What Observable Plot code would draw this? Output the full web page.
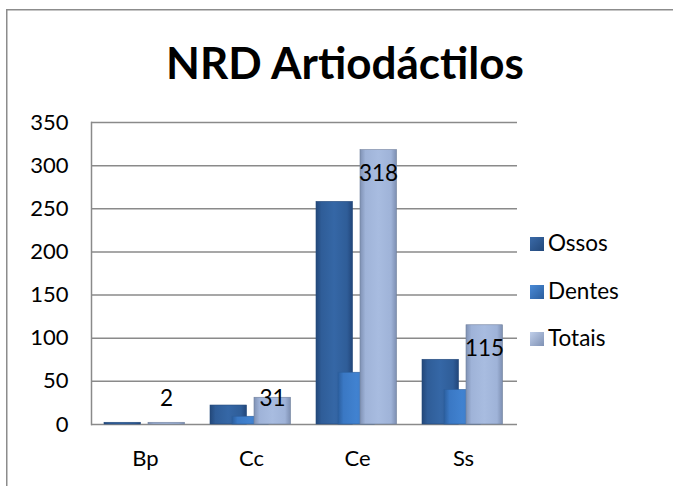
<!DOCTYPE html>
<html>
<head>
<meta charset="utf-8">
<script src="https://cdn.jsdelivr.net/npm/d3@7"></script>
<script src="https://cdn.jsdelivr.net/npm/@observablehq/plot@0.6"></script>
<style>
  html, body { margin: 0; padding: 0; background: #fff; overflow: hidden; }
  #wrap { position: relative; width: 673px; height: 486px; overflow: hidden; font-family: Lato, "Open Sans", sans-serif; }
  #frame { position: absolute; left: 0; top: 0; }
  #title { position: relative; height: 100px; text-align: center; font-weight: bold; font-size: 44px; line-height: 100px; color: #000; padding-left: 17px; padding-top: 12px; box-sizing: border-box; }
  #legend { position: absolute; left: 530px; top: 229px; font-size: 22.5px; color: #000; }
  #legend .row { height: 47.5px; display: flex; align-items: flex-start; }
  #legend .sw { width: 14px; height: 14px; margin-right: 4px; margin-top: 8px; box-sizing: border-box; }
  #chart { position: absolute; left: 0; top: 100px; }
</style>
</head>
<body>
<div id="wrap">
  <svg id="frame" width="673" height="486"><path d="M6.75,486V9.75H673" fill="none" stroke="#8c8c8c" stroke-width="1.5"/></svg>
  <div id="title">NRD Artiodáctilos</div>
  <div id="chart"></div>
  <div id="legend"></div>
</div>
<script>
const categories = ["Bp", "Cc", "Ce", "Ss"];
const ossos = [2, 22, 258, 75];
const dentes = [0, 9, 60, 40];
const totais = [2, 31, 318, 115];
const seriesNames = ["Ossos", "Dentes", "Totais"];
const yTicks = [0, 50, 100, 150, 200, 250, 300, 350];

const rows = categories.map((c, i) => ({cat: c, ossos: ossos[i], dentes: dentes[i], totais: totais[i]}));

const plot = Plot.plot({
  width: 673,
  height: 386,
  marginLeft: 91,
  marginRight: 156,
  marginTop: 22,
  marginBottom: 62,
  style: {fontFamily: "Lato, 'Open Sans', sans-serif", background: "transparent", overflow: "visible"},
  x: {domain: categories, padding: 0, label: null},
  y: {domain: [0, 350], label: null},
  marks: [
    Plot.ruleY(yTicks, {stroke: "#8a8a8a", strokeWidth: 1.5, strokeOpacity: 1}),
    Plot.frame({anchor: "left", stroke: "#8a8a8a", strokeWidth: 1.5}),
    Plot.barY(rows, {x: "cat", y: "ossos", fill: "url(#gOssos)", stroke: "#24497a", strokeWidth: 0.6, insetLeft: 12, insetRight: 57.5}),
    Plot.barY(rows, {x: "cat", y: "dentes", fill: "url(#gDentes)", stroke: "#2d5f9c", strokeWidth: 0.6, insetLeft: 34, insetRight: 35.5}),
    Plot.barY(rows, {x: "cat", y: "totais", fill: "url(#gTotais)", stroke: "#6f7f9c", strokeWidth: 0.6, insetLeft: 56, insetRight: 13.5}),
    Plot.text(rows, {x: "cat", y: d => Math.max(d.totais - 27.6, 30), text: d => String(d.totais), dx: 21, fontSize: 22.5, fill: "#000"}),
    Plot.axisY({ticks: yTicks, tickSize: 0, tickPadding: 23, fontSize: 22, tickFormat: d => String(d), fill: "#000"}),
    Plot.axisX({tickSize: 0, tickPadding: 26, fontSize: 22, fill: "#000"})
  ]
});
document.getElementById("chart").appendChild(plot);

const svg = d3.select(plot);
const defs = svg.insert("defs", ":first-child");
function grad(id, stops) {
  const g = defs.append("linearGradient").attr("id", id).attr("x1", 0).attr("x2", 1).attr("y1", 0).attr("y2", 0);
  stops.forEach(([o, c]) => g.append("stop").attr("offset", o).attr("stop-color", c));
}
grad("gOssos", [[0, "#23487a"], [0.15, "#2f5d98"], [0.5, "#3567a6"], [0.85, "#2f5d98"], [1, "#22467a"]]);
grad("gDentes", [[0, "#2b5e9e"], [0.15, "#3a78c4"], [0.5, "#4182d0"], [0.85, "#3a78c4"], [1, "#2b5e9e"]]);
grad("gTotais", [[0, "#7f91b4"], [0.15, "#9fb3d8"], [0.5, "#a8bce0"], [0.85, "#9fb3d8"], [1, "#7d8fb2"]]);

const swatch = {Ossos: "linear-gradient(135deg,#3a6aa8,#23487a)", Dentes: "linear-gradient(135deg,#4a8ad6,#2b5e9e)", Totais: "linear-gradient(135deg,#c0cfea,#7f91b4)"};
const legend = document.getElementById("legend");
seriesNames.forEach(n => {
  const r = document.createElement("div"); r.className = "row";
  const s = document.createElement("div"); s.className = "sw"; s.style.background = swatch[n];
  const t = document.createElement("span"); t.textContent = n;
  r.appendChild(s); r.appendChild(t); legend.appendChild(r);
});
</script>
</body>
</html>
